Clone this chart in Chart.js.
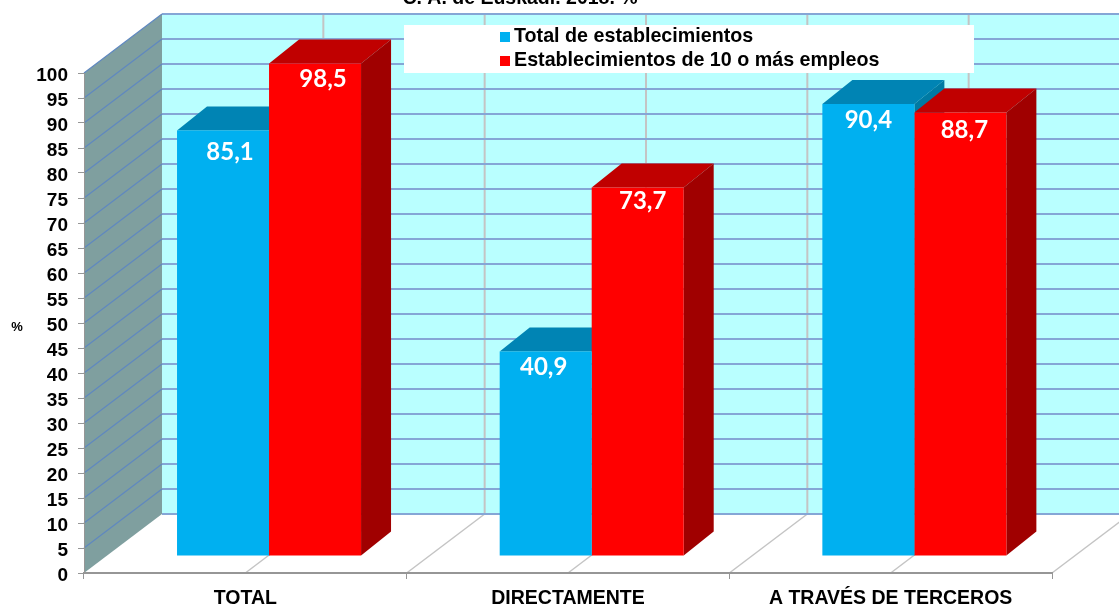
<!DOCTYPE html>
<html>
<head>
<meta charset="utf-8">
<title>Establecimientos</title>
<script src="https://cdn.jsdelivr.net/npm/chart.js@4/dist/chart.umd.min.js"></script>
<style>
  html, body { margin: 0; padding: 0; background: #fff; overflow: hidden; }
  #wrap { position: relative; width: 1119px; height: 607px; }
</style>
</head>
<body>
<div id="wrap"><canvas id="chart" width="1119" height="607"></canvas></div>
<script>
const categories = ['TOTAL', 'DIRECTAMENTE', 'A TRAVÉS DE TERCEROS'];
const seriesNames = ['Total de establecimientos', 'Establecimientos de 10 o más empleos'];
const totalValues = [85.1, 40.9, 90.4];
const largeValues = [98.5, 73.7, 88.7];
const titleText = 'C. A. de Euskadi. 2018. %';

const FONT = '"Liberation Sans", Arial, sans-serif';

// wall depth and bar depth of the fake 3D box
const WALL_DX = 78, WALL_DY = -59;
const BAR_SHIFT_X = 23.7, BAR_SHIFT_Y = -17;
const BAR_DX = 30, BAR_DY = -24;

const faceColors = [
  { top: '#0084b4', side: '#007aa3' },
  { top: '#c00000', side: '#a00000' }
];

// value labels were placed by hand in the source, so each has its own nudge [dx, dy]
const labelNudge = [
  [[7, 22], [-2, 16], [0, 16]],
  [[8, 16], [5, 14], [4, 18]]
];

function line(ctx, x1, y1, x2, y2) {
  ctx.beginPath();
  ctx.moveTo(x1, y1);
  ctx.lineTo(x2, y2);
  ctx.stroke();
}

function poly(ctx, pts, color) {
  ctx.fillStyle = color;
  ctx.beginPath();
  pts.forEach((p, i) => i ? ctx.lineTo(p[0], p[1]) : ctx.moveTo(p[0], p[1]));
  ctx.closePath();
  ctx.fill();
}

const box3d = {
  id: 'box3d',
  // y tick labels sit a little under their tick marks
  afterUpdate(chart) {
    chart.scales.y.getLabelItems().forEach(item => { item.textOffset += 3; });
  },
  // walls, floor, grid, title and legend
  beforeDraw(chart) {
    const { ctx, scales: { x, y }, width } = chart;
    const y0 = y.getPixelForValue(0), y100 = y.getPixelForValue(100);
    const left = x.left, right = x.right;
    ctx.save();

    poly(ctx, [[left + WALL_DX, y100 + WALL_DY], [width, y100 + WALL_DY], [width, y0 + WALL_DY], [left + WALL_DX, y0 + WALL_DY]], '#b9ffff');
    poly(ctx, [[left, y100], [left + WALL_DX, y100 + WALL_DY], [left + WALL_DX, y0 + WALL_DY], [left, y0]], '#7f9f9f');

    // vertical grid on the back wall and on the floor, every half category
    const step = (right - left) / (categories.length * 2);
    ctx.strokeStyle = '#c4c4c4';
    for (let i = 0; i <= categories.length * 2; i++) {
      const gx = left + step * i;
      ctx.lineWidth = 2;
      if (i > 0) line(ctx, gx + WALL_DX, y100 + WALL_DY, gx + WALL_DX, y0 + WALL_DY);
      ctx.lineWidth = 1.5;
      if (i > 0) line(ctx, gx, y0, gx + WALL_DX, y0 + WALL_DY);
    }

    // horizontal grid
    y.ticks.forEach(t => {
      const py = y.getPixelForValue(t.value);
      ctx.strokeStyle = '#85a6d6';
      ctx.lineWidth = 2;
      line(ctx, left + WALL_DX, py + WALL_DY, width, py + WALL_DY);
      if (t.value > 0) {
        ctx.strokeStyle = '#5f88c0';
        ctx.lineWidth = 1.2;
        line(ctx, left, py, left + WALL_DX, py + WALL_DY);
      }
    });

    // title, cut by the top of the picture as in the source
    ctx.fillStyle = '#000';
    ctx.font = 'bold 19.5px ' + FONT;
    ctx.textAlign = 'center';
    ctx.textBaseline = 'alphabetic';
    ctx.fillText(titleText, 520, 4);

    // legend
    ctx.fillStyle = '#fff';
    ctx.fillRect(404, 25, 570, 48);
    ctx.font = 'bold 19.7px ' + FONT;
    ctx.textAlign = 'left';
    ctx.textBaseline = 'middle';
    seriesNames.forEach((name, i) => {
      const ly = 37 + i * 24;
      ctx.fillStyle = chart.data.datasets[i].backgroundColor;
      ctx.fillRect(500, ly - 5, 10, 10);
      ctx.fillStyle = '#000';
      ctx.fillText(name, 514, ly);
    });

    // axis unit
    ctx.font = 'bold 13px ' + FONT;
    ctx.textAlign = 'center';
    ctx.fillText('%', 17, 327);
    ctx.restore();
  },
  // shift the bars into the box and add their top and side faces
  beforeDatasetsDraw(chart) {
    const { ctx } = chart;
    ctx.save();
    ctx.translate(BAR_SHIFT_X, BAR_SHIFT_Y);
    categories.forEach((c, idx) => {
      chart.data.datasets.forEach((ds, d) => {
        const bar = chart.getDatasetMeta(d).data[idx];
        const l = bar.x - bar.width / 2, r = bar.x + bar.width / 2;
        poly(ctx, [[l, bar.y], [l + BAR_DX, bar.y + BAR_DY], [r + BAR_DX, bar.y + BAR_DY], [r, bar.y]], faceColors[d].top);
        poly(ctx, [[r, bar.y], [r + BAR_DX, bar.y + BAR_DY], [r + BAR_DX, bar.base + BAR_DY], [r, bar.base]], faceColors[d].side);
      });
    });
  },
  afterDatasetsDraw(chart) {
    const { ctx } = chart;
    // white value labels, still in the shifted position
    ctx.fillStyle = '#fff';
    ctx.font = 'bold 24px Lato, "Open Sans", sans-serif';
    ctx.textAlign = 'center';
    ctx.textBaseline = 'middle';
    chart.data.datasets.forEach((ds, d) => {
      chart.getDatasetMeta(d).data.forEach((bar, i) => {
        const [nx, ny] = labelNudge[d][i];
        ctx.fillText(ds.data[i].toFixed(1).replace('.', ','), bar.x + nx, bar.y + ny);
      });
    });
    ctx.restore();
  }
};

new Chart(document.getElementById('chart'), {
  type: 'bar',
  data: {
    labels: categories,
    datasets: [
      { label: seriesNames[0], data: totalValues, backgroundColor: '#00b0f0', clip: false },
      { label: seriesNames[1], data: largeValues, backgroundColor: '#ff0000', clip: false }
    ]
  },
  plugins: [box3d],
  options: {
    responsive: false,
    animation: false,
    layout: { padding: { left: 0, right: 67, top: 73, bottom: 0 } },
    plugins: { legend: { display: false }, title: { display: false }, tooltip: { enabled: false } },
    datasets: { bar: { barPercentage: 1, categoryPercentage: 0.5703, borderWidth: 0 } },
    scales: {
      x: {
        afterFit(scale) { scale.height = 34; },
        grid: { drawOnChartArea: false, color: '#969696', tickLength: 6 },
        border: { color: '#969696', width: 2 },
        ticks: { color: '#000', padding: 8, maxRotation: 0, autoSkip: false, font: { family: FONT, size: 19.5, weight: 'bold' } }
      },
      y: {
        min: 0,
        max: 100,
        afterFit(scale) { scale.width = 84; },
        grid: { drawOnChartArea: false, color: '#969696', tickLength: 6 },
        border: { color: '#969696', width: 1 },
        ticks: { stepSize: 5, autoSkip: false, color: '#000', padding: 10, font: { family: FONT, size: 19, weight: 'bold' } }
      }
    }
  }
});
</script>
</body>
</html>
